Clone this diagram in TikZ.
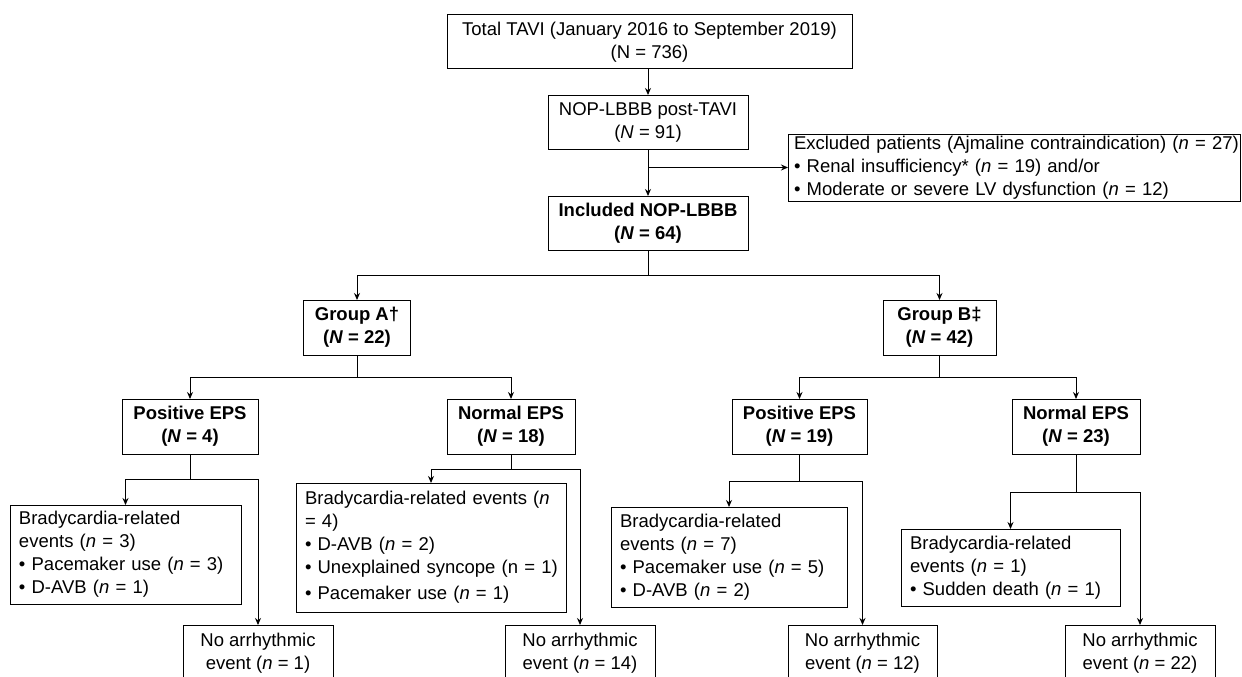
\documentclass[tikz,border=0pt]{standalone}
\usepackage{fontspec}
\setmainfont{Liberation Sans}
\usepackage{tikz}
\usetikzlibrary{arrows.meta,calc}
\newcommand{\chartfont}{\fontsize{18.5}{23}\selectfont}
\tikzset{>={Stealth[length=7pt,width=6pt]},
	box/.style={% framed boxes of the flow chart
		draw, rectangle,
		line width=1pt,
		inner sep=0pt,
		outer sep=0pt,
		align=center,
		font=\chartfont
	},
	boldbox/.style={box, font=\chartfont\bfseries},
	listbox/.style={% boxes with a left aligned list
		box,
		align=left,
		inner xsep=9pt
	},
	link/.style={->, line width=1pt}
}

\begin{document}
\begin{tikzpicture}[x=1pt, y=-1pt]
		\useasboundingbox (0,0) rectangle (1242,677);
		% upper part
		\node[box, minimum width=405pt, minimum height=54pt] (total) at (649.5,42)
		{Total TAVI (January 2016 to September 2019)\\(N = 736)};
		\node[box, minimum width=200pt, minimum height=54pt] (nop) at (648,122)
		{NOP-LBBB post-TAVI\\(\textit{N} = 91)};
		\node[boldbox, minimum width=200pt, minimum height=54pt] (incl) at (648,223)
		{Included NOP-LBBB\\(\textit{N} = 64)};
		\node[listbox, inner xsep=6pt, text width=440pt, minimum height=67pt] (excl) at (1014,167.5)
		{\mbox{Excluded patients (Ajmaline contraindication) (\textit{n} = 27)}\\
			• Renal insufficiency* (\textit{n} = 19) and/or\\
			• Moderate or severe LV dysfunction (\textit{n} = 12)};
		
		% groups
		\node[boldbox, minimum width=107pt, minimum height=55pt] (grpA) at (357,327.5) {Group A†\\(\textit{N} = 22)};
		\node[boldbox, minimum width=113pt, minimum height=55pt] (grpB) at (939.5,327.5) {Group B‡\\(\textit{N} = 42)};
		\node[boldbox, minimum width=136pt, minimum height=55pt] (posA) at (190,426.5) {Positive EPS\\(\textit{N} = 4)};
		\node[boldbox, minimum width=128pt, minimum height=55pt] (normA) at (511,426.5) {Normal EPS\\(\textit{N} = 18)};
		\node[boldbox, minimum width=135pt, minimum height=55pt] (posB) at (799.5,426.5) {Positive EPS\\(\textit{N} = 19)};
		\node[boldbox, minimum width=128pt, minimum height=55pt] (normB) at (1076,426.5) {Normal EPS\\(\textit{N} = 23)};
		
		% events
		\node[listbox, text width=213pt, minimum height=99pt] (bradA1) at (125.5,554.5)
		{Bradycardia-related\\events (\textit{n} = 3)\\• Pacemaker use (\textit{n} = 3)\\• D-AVB (\textit{n} = 1)};
		\node[listbox, text width=252pt, minimum height=129pt] (bradA2) at (431,547.5)
		{\mbox{Bradycardia-related events (\textit{n}}\\= 4)\\• D-AVB (\textit{n} = 2)\\\mbox{• Unexplained syncope (n = 1)}\\[3pt]• Pacemaker use (\textit{n} = 1)};
		\node[listbox, text width=218pt, minimum height=100pt] (bradB1) at (729,557)
		{Bradycardia-related\\events (\textit{n} = 7)\\• Pacemaker use (\textit{n} = 5)\\• D-AVB (\textit{n} = 2)};
		\node[listbox, text width=201pt, minimum height=77pt] (bradB2) at (1010.5,567.5)
		{Bradycardia-related\\events (\textit{n} = 1)\\• Sudden death (\textit{n} = 1)};
		
		\node[box, minimum width=150pt, minimum height=56pt] (noA1) at (258,653) {No arrhythmic\\event (\textit{n} = 1)};
		\node[box, minimum width=150pt, minimum height=56pt] (noA2) at (580,653) {No arrhythmic\\event (\textit{n} = 14)};
		\node[box, minimum width=149pt, minimum height=56pt] (noB1) at (862.5,653) {No arrhythmic\\event (\textit{n} = 12)};
		\node[box, minimum width=150pt, minimum height=56pt] (noB2) at (1140,653) {No arrhythmic\\event (\textit{n} = 22)};
		
		% connectors
		\draw[link] (nop.north |- total.south) -- (nop.north);
		\draw[link] (nop) -- (incl);
		\draw[link] (nop.south |- excl.west) -- (excl.west);
		\draw[link] (incl.south) -- ++(0,25) -| (grpA.north);
		\draw[link] (incl.south) -- ++(0,25) -| (grpB.north);
		\draw[link] (grpA.south) -- ++(0,22) -| (posA.north);
		\draw[link] (grpA.south) -- ++(0,22) -| (normA.north);
		\draw[link] (grpB.south) -- ++(0,22) -| (posB.north);
		\draw[link] (grpB.south) -- ++(0,22) -| (normB.north);
		\draw[link] (posA.south) -- ++(0,25) -| (bradA1.north);
		\draw[link] (posA.south) -- ++(0,25) -| (noA1.north);
		\draw[link] (normA.south) -- ++(0,15) -| (bradA2.north);
		\draw[link] (normA.south) -- ++(0,15) -| (noA2.north);
		\draw[link] (posB.south) -- ++(0,27) -| (bradB1.north);
		\draw[link] (posB.south) -- ++(0,27) -| (noB1.north);
		\draw[link] (normB.south) -- ++(0,38) -| (bradB2.north);
		\draw[link] (normB.south) -- ++(0,38) -| (noB2.north);
	\end{tikzpicture}
\end{document}
